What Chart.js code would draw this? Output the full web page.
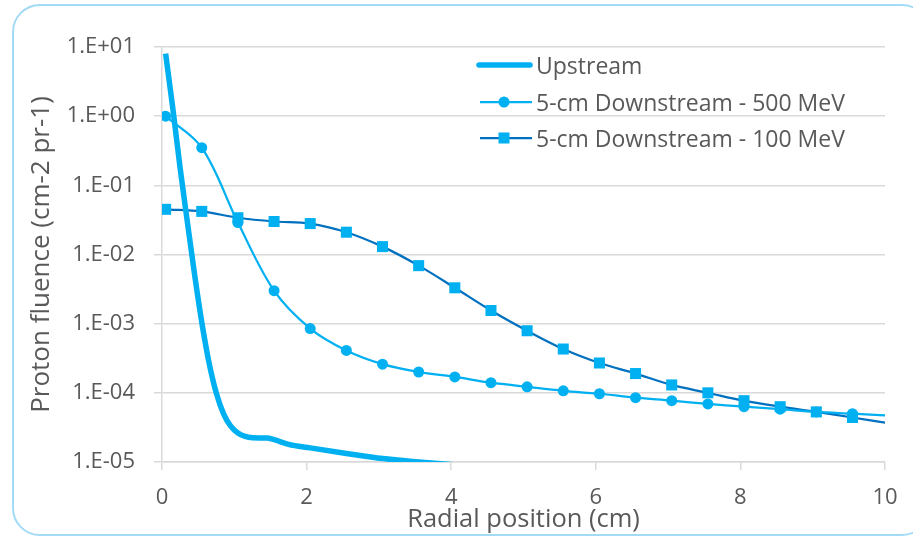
<!DOCTYPE html>
<html><head><meta charset="utf-8">
<script src="https://cdn.jsdelivr.net/npm/chart.js@4"></script>
<style>
html,body{margin:0;padding:0;background:#fff;overflow:hidden}
#wrap{position:relative;width:913px;height:537px}
#frame{position:absolute;left:12px;top:4px;width:914px;height:528px;border:2px solid #A3DAF6;border-radius:28px}
canvas{position:absolute;left:0;top:0}
</style></head><body>
<div id="wrap"><div id="frame"></div><canvas id="c" width="913" height="537"></canvas></div>
<script>
// ---- data ----
const seriesLabels = ['Upstream', '5-cm Downstream - 500 MeV', '5-cm Downstream - 100 MeV'];

const upstreamX = [0.05, 0.15, 0.25, 0.35, 0.45, 0.55, 0.65, 0.75, 0.85, 0.95, 1.05, 1.15, 1.25, 1.45, 1.55, 1.75, 2.05, 2.55, 3.05, 3.55, 4.05, 4.55];
const upstreamY = [8.0, 1.29, 0.18, 0.030, 5.2e-3, 1.05e-3, 2.75e-4, 1.0e-4, 5.0e-5, 3.3e-5, 2.63e-5, 2.34e-5, 2.24e-5, 2.22e-5, 2.1e-5, 1.8e-5, 1.6e-5, 1.33e-5, 1.12e-5, 1.0e-5, 9.1e-6, 8.3e-6];

const downstreamX = [0.05, 0.55, 1.05, 1.55, 2.05, 2.55, 3.05, 3.55, 4.05, 4.55, 5.05, 5.55, 6.05, 6.55, 7.05, 7.55, 8.05, 8.55, 9.05, 9.55, 10.05];
const fluence500 = [1.0, 0.35, 0.029, 3.0e-3, 8.5e-4, 4.1e-4, 2.6e-4, 2.0e-4, 1.7e-4, 1.4e-4, 1.22e-4, 1.07e-4, 9.7e-5, 8.5e-5, 7.7e-5, 6.9e-5, 6.3e-5, 5.8e-5, 5.3e-5, 5.0e-5, 4.7e-5];
const fluence100 = [0.045, 0.042, 0.034, 0.030, 0.028, 0.021, 0.013, 6.9e-3, 3.3e-3, 1.55e-3, 7.9e-4, 4.3e-4, 2.7e-4, 1.9e-4, 1.3e-4, 1.0e-4, 7.7e-5, 6.3e-5, 5.3e-5, 4.4e-5, 3.65e-5];

const xTickStep = 2;
const yTickValues = [1e-5, 1e-4, 1e-3, 1e-2, 1e-1, 1e0, 1e1];
const yTickLabels = ['1.E-05', '1.E-04', '1.E-03', '1.E-02', '1.E-01', '1.E+00', '1.E+01'];
const xTitle = 'Radial position (cm)';
const yTitle = 'Proton fluence (cm-2 pr-1)';

// ---- chart ----
const TEXT = '#595959', GRID = '#D9D9D9', LIGHT = '#00B0F0', DARK = '#0070C0';
const FONT = '"Open Sans", "Noto Sans", sans-serif';

const toPts = (xs, ys) => xs.map((x, i) => ({x: x, y: ys[i]}));
const insideOnly = ctx => (ctx.raw && ctx.raw.x > 10) ? 0 : undefined;

const legendPlugin = {
  id: 'insideLegend',
  afterDraw(chart) {
    const ctx = chart.ctx;
    const rows = [65, 102, 138];
    const fs = 23;
    ctx.save();
    chart.data.datasets.forEach((ds, i) => {
      const y = rows[i];
      ctx.strokeStyle = ds.borderColor;
      ctx.lineWidth = ds.borderWidth;
      ctx.lineCap = i === 0 ? 'round' : 'butt';
      ctx.beginPath();
      ctx.moveTo(i === 0 ? 479 : 480, y);
      ctx.lineTo(i === 0 ? 530 : 532, y);
      ctx.stroke();
      ctx.fillStyle = LIGHT;
      if (i === 1) {
        ctx.beginPath(); ctx.arc(504, y, 5.5, 0, Math.PI * 2); ctx.fill();
      } else if (i === 2) {
        ctx.fillRect(498.5, y - 5.5, 11, 11);
      }
      ctx.font = fs + 'px ' + FONT;
      ctx.fillStyle = TEXT;
      ctx.textBaseline = 'alphabetic';
      ctx.textAlign = 'left';
      ctx.fillText(ds.label, 536, y + 1 + fs * 0.357);
    });
    ctx.restore();
  }
};

new Chart(document.getElementById('c'), {
  type: 'line',
  data: {
    datasets: [
      {
        label: seriesLabels[0],
        data: toPts(upstreamX, upstreamY),
        borderColor: LIGHT, borderWidth: 5.5,
        pointRadius: 0, cubicInterpolationMode: 'monotone', fill: false
      },
      {
        label: seriesLabels[1],
        data: toPts(downstreamX, fluence500),
        borderColor: LIGHT, borderWidth: 2.25, tension: 0.35,
        pointStyle: 'circle', pointRadius: c => insideOnly(c) ?? 5.5,
        pointBackgroundColor: LIGHT, pointBorderColor: LIGHT, pointBorderWidth: 0, fill: false
      },
      {
        label: seriesLabels[2],
        data: toPts(downstreamX, fluence100),
        borderColor: DARK, borderWidth: 2.25, tension: 0.35,
        pointStyle: 'rect', pointRadius: c => insideOnly(c) ?? 7.8,
        pointBackgroundColor: LIGHT, pointBorderColor: LIGHT, pointBorderWidth: 0, fill: false
      }
    ]
  },
  options: {
    responsive: false, animation: false, devicePixelRatio: 1,
    layout: {padding: {left: 0, right: 28, top: 47, bottom: 0}},
    plugins: {legend: {display: false}, tooltip: {enabled: false}},
    scales: {
      x: {
        type: 'linear', min: 0, max: 10,
        ticks: {stepSize: xTickStep, color: TEXT, font: {family: FONT, size: 22}, padding: 15, maxRotation: 0},
        grid: {drawOnChartArea: false, drawTicks: true, tickLength: 8, color: GRID, lineWidth: 1.5},
        border: {display: true, color: GRID, width: 1.5},
        title: {display: true, text: xTitle, color: TEXT, font: {family: FONT, size: 25.5, lineHeight: 1.2}, padding: {top: 0, bottom: 2}},
        afterFit: s => { s.height = 75; }
      },
      y: {
        type: 'logarithmic', min: 1e-5, max: 10,
        afterBuildTicks: s => { s.ticks = yTickValues.map(v => ({value: v})); },
        ticks: {
          color: TEXT, font: {family: FONT, size: 22}, padding: 19,
          callback: v => {
            const i = yTickValues.findIndex(t => Math.abs(Math.log10(t) - Math.log10(v)) < 1e-6);
            return i >= 0 ? yTickLabels[i] : '';
          }
        },
        grid: {color: GRID, lineWidth: 1.5, tickLength: 8},
        border: {display: true, color: GRID, width: 1.5},
        title: {display: true, text: yTitle, color: TEXT, font: {family: FONT, size: 26, lineHeight: 1.2}, padding: {top: 26, bottom: 0}},
        afterFit: s => { s.width = 162; }
      }
    }
  },
  plugins: [legendPlugin]
});
</script>
</body></html>
